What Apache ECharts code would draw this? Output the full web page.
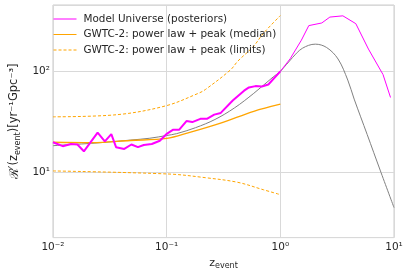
<!DOCTYPE html>
<html><head><meta charset="utf-8">
<script src="https://cdn.jsdelivr.net/npm/echarts@6/dist/echarts.min.js"></script>
<style>html,body{margin:0;padding:0;background:#fff}#c{width:409px;height:275px}</style>
</head><body><div id="c"></div>
<script>
// ---- data ----
const xTickValues = [0.01, 0.1, 1, 10];
const xTickLabels = ['10\u207B\u00B2', '10\u207B\u00B9', '10\u2070', '10\u00B9'];
const yTickValues = [10, 100];
const yTickLabels = ['10\u00B9', '10\u00B2'];

const magentaThickZ = [0.0100,0.0122,0.0144,0.0164,0.0187,0.0247,0.0286,0.0326,0.0359,0.0424,0.0490,0.0559,0.0629,0.0740,0.0871,0.0994,0.1134,0.1291,0.1494,0.1681,0.1980,0.2259,0.2623,0.2993,0.3814,0.4800,0.5297,0.6043,0.6880,0.7850,1.0];
const magentaThickR = [19.7,18.0,18.9,18.7,16.0,24.6,20.1,23.7,17.6,16.9,18.7,17.6,18.5,18.9,20.4,23.7,26.2,26.3,32.0,31.3,33.7,33.7,37.1,38.6,51.4,64.3,69.3,71.4,70.9,74.1,100];

const magentaThinZ = [1.0,1.222,1.533,1.78,2.317,2.729,3.551,4.614,5.96,8.01,9.32];
const magentaThinR = [100,134,205,286,304,348,358,299,167,93,55];

const greyZ = [0.01,0.0147,0.0218,0.0324,0.048,0.0711,0.1,0.1225,0.1794,0.266,0.394,0.584,0.866,1.0,1.284,1.563,2.03,2.557,3.219,3.92,4.463,5.81,7.55,10];
const greyR = [18.2,18.7,19.2,19.9,20.7,21.6,23.0,24.0,27.5,33.2,43.2,60.5,88.2,100,138,170,187,173,133,82,53,23.5,10.4,4.4];

const medianZ = [0.01,0.022,0.048,0.1,0.157,0.303,0.584,1.0];
const medianR = [19.7,19.5,20.5,21.5,24.6,30.8,40.1,47.2];

const upperZ = [0.01,0.0369,0.0989,0.19,0.219,0.366,0.421,0.581,0.711,1.0];
const upperR = [35.3,37.1,45.5,60.5,66,104,126,178,240,360];

const lowerZ = [0.01,0.105,0.2184,0.421,0.711,1.0];
const lowerR = [10.2,9.5,8.74,7.86,6.62,5.92];

const legendNames = ['Model Universe (posteriors)', 'GWTC-2: power law + peak (median)', 'GWTC-2: power law + peak (limits)'];

// ---- helpers ----
const zip = (a, b) => a.map((v, i) => [v, b[i]]);
const FONT = 'DejaVu Sans';
function tickFmt(values, labels) {
  return function (v) {
    for (let i = 0; i < values.length; i++) {
      if (Math.abs(Math.log10(v) - Math.log10(values[i])) < 1e-6) return labels[i];
    }
    return '';
  };
}

const chart = echarts.init(document.getElementById('c'), null, {renderer: 'canvas'});
const option = {
  animation: false,
  backgroundColor: '#ffffff',
  textStyle: {fontFamily: FONT},
  grid: {left: 43, right: 15, top: 5, bottom: 33, show: true, borderColor: '#cccccc', borderWidth: 1, backgroundColor: 'transparent'},
  legend: {
    data: legendNames.map(n => ({name: n, itemStyle: {opacity: 0}, lineStyle: {width: 1}})),
    orient: 'vertical',
    left: 53, top: 14,
    padding: 0,
    itemWidth: 23, itemHeight: 10, itemGap: 5.5,
    itemStyle: {opacity: 0},
    lineStyle: {width: 1},
    textStyle: {fontFamily: FONT, fontSize: 10.4, color: '#262626', lineHeight: 10, padding: [0, 0, 0, 2]}
  },
  xAxis: {
    type: 'log', logBase: 10, min: 0.01, max: 10,
    axisLine: {show: false}, axisTick: {show: false},
    splitLine: {show: true, lineStyle: {color: '#d9d9d9', width: 1}},
    axisLabel: {formatter: tickFmt(xTickValues, xTickLabels), fontFamily: FONT, fontSize: 10.5, color: '#262626', margin: 4},
    name: '{a|z}{b|event}', nameLocation: 'middle', nameGap: 15,
    nameTextStyle: {rich: {
      a: {fontFamily: FONT, fontSize: 11, color: '#262626', lineHeight: 14},
      b: {fontFamily: FONT, fontSize: 8, color: '#262626', verticalAlign: 'bottom', lineHeight: 14}
    }}
  },
  yAxis: {
    type: 'log', logBase: 10, min: 2.21, max: 459,
    axisLine: {show: false}, axisTick: {show: false},
    splitLine: {show: true, lineStyle: {color: '#d9d9d9', width: 1}},
    axisLabel: {formatter: tickFmt(yTickValues, yTickLabels), fontFamily: FONT, fontSize: 10.5, color: '#262626', margin: 3},
    name: '{r|\u211B}{a|\u2032(z}{b|event}{a|)[yr\u207B\u00B9Gpc\u207B\u00B3]}', nameLocation: 'middle', nameGap: 23,
    nameTextStyle: {rich: {
      r: {fontFamily: 'DejaVu Serif', fontSize: 12.5, color: '#262626', lineHeight: 14},
      a: {fontFamily: FONT, fontSize: 11.5, color: '#262626', lineHeight: 14},
      b: {fontFamily: FONT, fontSize: 8, color: '#262626', verticalAlign: 'bottom', lineHeight: 14}
    }}
  },
  series: [
    {type: 'line', name: 'grey model', data: zip(greyZ, greyR), symbol: 'none', smooth: 0.35,
     lineStyle: {color: '#808080', width: 1}, itemStyle: {color: '#808080'}, z: 2},
    {type: 'line', name: legendNames[1], data: zip(medianZ, medianR), symbol: 'none', smooth: 0.35,
     lineStyle: {color: '#ffa500', width: 1.3}, itemStyle: {color: '#ffa500'}, z: 3},
    {type: 'line', name: legendNames[2], data: zip(upperZ, upperR), symbol: 'none', smooth: 0.35,
     lineStyle: {color: '#ffa500', width: 1, type: [3, 2]}, itemStyle: {color: '#ffa500'}, z: 3},
    {type: 'line', name: legendNames[2], data: zip(lowerZ, lowerR), symbol: 'none', smooth: 0.35,
     lineStyle: {color: '#ffa500', width: 1, type: [3, 2]}, itemStyle: {color: '#ffa500'}, z: 3},
    {type: 'line', name: 'posteriors thick', data: zip(magentaThickZ, magentaThickR), symbol: 'none',
     lineStyle: {color: '#ff00ff', width: 2}, itemStyle: {color: '#ff00ff'}, z: 4},
    {type: 'line', name: legendNames[0], data: zip(magentaThinZ, magentaThinR), symbol: 'none',
     lineStyle: {color: '#ff00ff', width: 1}, itemStyle: {color: '#ff00ff'}, z: 4}
  ]
};
chart.setOption(option);
</script>
</body></html>
